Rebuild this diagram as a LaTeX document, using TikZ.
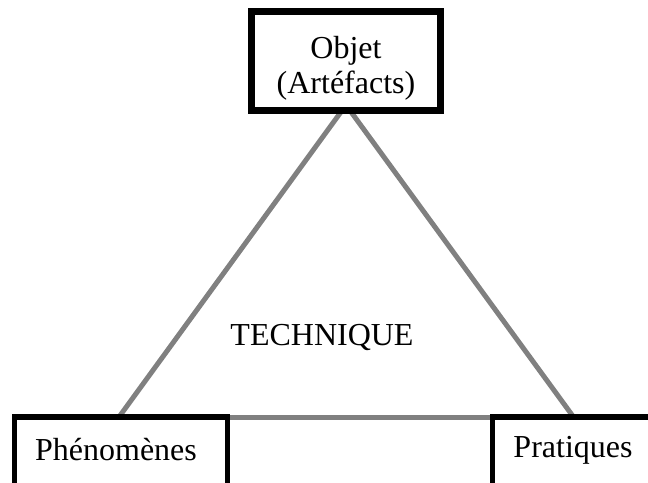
\documentclass[tikz,border=0pt]{standalone}
\usepackage{fontspec}
\setmainfont{Liberation Serif}
\usetikzlibrary{backgrounds}

\tikzset{
  framebox/.style={draw=black, fill=white, rectangle, outer sep=0pt, inner sep=0pt},
  topframe/.style={framebox, line width=7pt},
  lowframe/.style={framebox, line width=5.5pt},
  label text/.style={inner sep=0pt, outer sep=0pt, font=\fontsize{32}{35}\selectfont},
  link/.style={draw={rgb,255:red,128;green,128;blue,128}, line width=5pt}
}

\begin{document}
\begin{tikzpicture}[x=1pt, y=-1pt]
  \useasboundingbox (0,0) rectangle (648,482);
  \clip (0,0) rectangle (648,482);

  % the three concept boxes
  \node[topframe, anchor=north west, minimum width=189pt, minimum height=98.5pt] (obj) at (251.5,11.5) {};
  \node[lowframe, anchor=north west, minimum width=213pt, minimum height=100pt] (phen) at (14.5,417) {};
  \node[lowframe, anchor=north west, minimum width=200pt, minimum height=100pt] (prat) at (492.5,417) {};

  % box texts
  \node[label text, align=center] (objtxt) at (346,68) {Objet\\(Artéfacts)};
  \node[label text, anchor=base] (phentxt) at (116,460) {Phénomènes};
  \node[label text, anchor=base] (prattxt) at (573,457) {Pratiques};
  \node[label text, anchor=base] (tech) at (322,345) {TECHNIQUE};

  % where the triangle's sides meet the boxes
  \coordinate (apex) at (346,105);
  \coordinate (leftfoot) at (119,417);
  \coordinate (rightfoot) at (573.5,417);

  % triangle sides, behind the boxes
  \begin{scope}[on background layer]
    \draw[link] (apex) -- (leftfoot);
    \draw[link] (apex) -- (rightfoot);
    \draw[link] (phen.north east) -- (prat.north west);
  \end{scope}
\end{tikzpicture}
\end{document}
